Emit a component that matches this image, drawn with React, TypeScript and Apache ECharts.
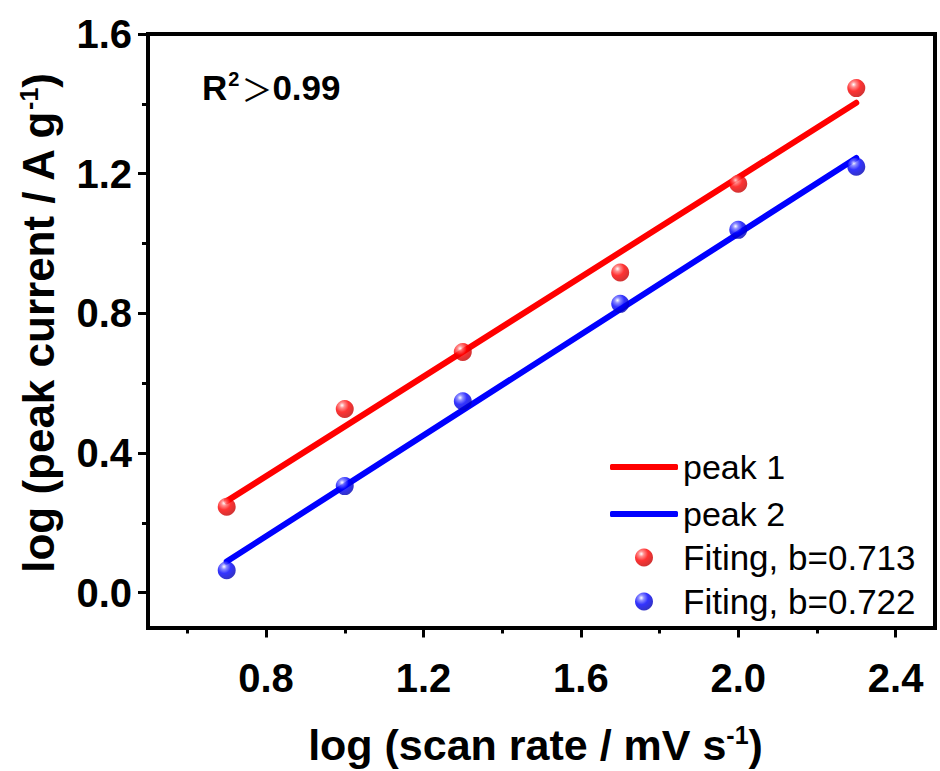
import React, { useEffect, useRef } from "react";
import * as echarts from "echarts";

// ---- data ----
const scanRateLog = [0.7, 1.0, 1.3, 1.7, 2.0, 2.3];
const peak1Points = [0.246, 0.526, 0.689, 0.917, 1.171, 1.445];
const peak2Points = [0.064, 0.305, 0.548, 0.827, 1.039, 1.22];
const fitX = [0.7, 2.3];
const peak1Fit = [0.262, 1.403];
const peak2Fit = [0.089, 1.245];
const xMajorTicks = [0.8, 1.2, 1.6, 2.0, 2.4];
const xMinorTicks = [0.6, 1.0, 1.4, 1.8, 2.2];
const yMajorTicks = [0.0, 0.4, 0.8, 1.2, 1.6];
const yMinorTicks = [0.2, 0.6, 1.0, 1.4];
const lineNames = ["peak 1", "peak 2"];
const pointNames = ["Fiting, b=0.713", "Fiting, b=0.722"];

const FONT = "'Liberation Sans', Arial, sans-serif";

function sphere(light: string, mid: string, dark: string) {
  return new echarts.graphic.RadialGradient(0.35, 0.3, 0.75, [
    { offset: 0, color: "#ffffff" },
    { offset: 0.2, color: light },
    { offset: 0.5, color: mid },
    { offset: 1, color: dark },
  ]);
}

export default function App() {
  const ref = useRef<HTMLDivElement>(null);
  useEffect(() => {
    document.body.style.margin = "0";
    const chart = echarts.init(ref.current!, undefined, { renderer: "svg" });
    const xMin = 0.5, xMax = 2.5, yMin = -0.1, yMax = 1.6;
    const frameLine = { show: true, onZero: false, lineStyle: { color: "#000", width: 4, cap: "square" } };
    const noLine = { show: false, onZero: false };
    const baseX = { type: "value", min: xMin, max: xMax, splitLine: { show: false } };
    const baseY = { type: "value", min: yMin, max: yMax, splitLine: { show: false } };
    const red = sphere("#ff7070", "#ff0000", "#c00000");
    const blue = sphere("#7070ff", "#0000ff", "#0000b0");
    const supStyle = { fontFamily: FONT, fontWeight: "bold", fontSize: 25, verticalAlign: "top", padding: [0, 0, 19, 0], color: "#000" };
    chart.setOption({
      animation: false,
      grid: { left: 148, right: 5, top: 34, bottom: 143, containLabel: false },
      xAxis: [
        {
          ...baseX,
          position: "bottom",
          axisLine: frameLine,
          axisTick: { show: true, inside: false, length: 10, customValues: xMajorTicks, lineStyle: { color: "#000", width: 3 } },
          axisLabel: {
            show: true,
            customValues: xMajorTicks,
            margin: 30,
            color: "#000",
            fontFamily: FONT,
            fontWeight: "bold",
            fontSize: 40,
            formatter: (v: number) => v.toFixed(1),
          },
          name: "log (scan rate / mV s{sup|-1})",
          nameLocation: "middle",
          nameGap: 95,
          nameTextStyle: {
            color: "#000",
            fontFamily: FONT,
            fontWeight: "bold",
            fontSize: 43,
            padding: [0, 12, 0, 0],
            rich: { sup: supStyle },
          },
        },
        {
          ...baseX,
          position: "bottom",
          axisLine: noLine,
          axisTick: { show: true, inside: false, length: 6, customValues: xMinorTicks, lineStyle: { color: "#000", width: 3 } },
          axisLabel: { show: false },
        },
        {
          ...baseX,
          position: "top",
          axisLine: frameLine,
          axisTick: { show: false },
          axisLabel: { show: false },
        },
      ],
      yAxis: [
        {
          ...baseY,
          position: "left",
          axisLine: frameLine,
          axisTick: { show: true, inside: false, length: 10, customValues: yMajorTicks, lineStyle: { color: "#000", width: 3 } },
          axisLabel: {
            show: true,
            customValues: yMajorTicks,
            margin: 16,
            color: "#000",
            fontFamily: FONT,
            fontWeight: "bold",
            fontSize: 40,
            formatter: (v: number) => v.toFixed(1),
          },
          name: "log (peak current / A g{sup|-1})",
          nameLocation: "middle",
          nameGap: 88,
          nameTextStyle: {
            color: "#000",
            fontFamily: FONT,
            fontWeight: "bold",
            fontSize: 44,
            padding: [0, 0, 0, 14],
            rich: { sup: supStyle },
          },
        },
        {
          ...baseY,
          position: "left",
          axisLine: noLine,
          axisTick: { show: true, inside: false, length: 6, customValues: yMinorTicks, lineStyle: { color: "#000", width: 3 } },
          axisLabel: { show: false },
        },
        {
          ...baseY,
          position: "right",
          axisLine: frameLine,
          axisTick: { show: false },
          axisLabel: { show: false },
        },
      ],
      legend: [
        {
          data: lineNames.map((n) => ({ name: n, icon: "roundRect" })),
          orient: "vertical",
          left: 605,
          top: 445,
          itemWidth: 68,
          itemHeight: 6,
          itemGap: 13,
          textStyle: { color: "#000", fontFamily: FONT, fontSize: 34 },
        },
        {
          data: pointNames.map((n) => ({ name: n, icon: "circle" })),
          orient: "vertical",
          left: 630,
          top: 535,
          itemWidth: 68,
          itemHeight: 18,
          itemGap: 9,
          textStyle: { color: "#000", fontFamily: FONT, fontSize: 35 },
        },
      ],
      graphic: [
        {
          type: "text",
          left: 202,
          top: 69,
          style: {
            text: "{r|R}{s|2}{g|＞}{r|0.99}",
            rich: {
              r: { fontFamily: FONT, fontWeight: "bold", fontSize: 35, fill: "#000" },
              s: { fontFamily: FONT, fontWeight: "bold", fontSize: 20, fill: "#000", verticalAlign: "top", padding: [0, 2, 16, 1] },
              g: { fontFamily: "'Noto Sans CJK SC', sans-serif", fontWeight: "normal", fontSize: 31, fill: "#000" },
            },
          },
        },
      ],
      series: [
        {
          name: lineNames[0],
          type: "line",
          data: fitX.map((x, i) => [x, peak1Fit[i]]),
          showSymbol: false,
          color: "#ff0000",
          lineStyle: { color: "#ff0000", width: 6, cap: "round" },
          z: 2,
        },
        {
          name: lineNames[1],
          type: "line",
          data: fitX.map((x, i) => [x, peak2Fit[i]]),
          showSymbol: false,
          color: "#0000ff",
          lineStyle: { color: "#0000ff", width: 6, cap: "round" },
          z: 2,
        },
        {
          name: pointNames[0],
          type: "scatter",
          data: scanRateLog.map((x, i) => [x, peak1Points[i]]),
          symbolSize: 18,
          itemStyle: { color: red },
          z: 3,
        },
        {
          name: pointNames[1],
          type: "scatter",
          data: scanRateLog.map((x, i) => [x, peak2Points[i]]),
          symbolSize: 18,
          itemStyle: { color: blue },
          z: 3,
        },
      ],
    });
    return () => chart.dispose();
  }, []);
  return <div ref={ref} style={{ width: 940, height: 771 }} />;
}
